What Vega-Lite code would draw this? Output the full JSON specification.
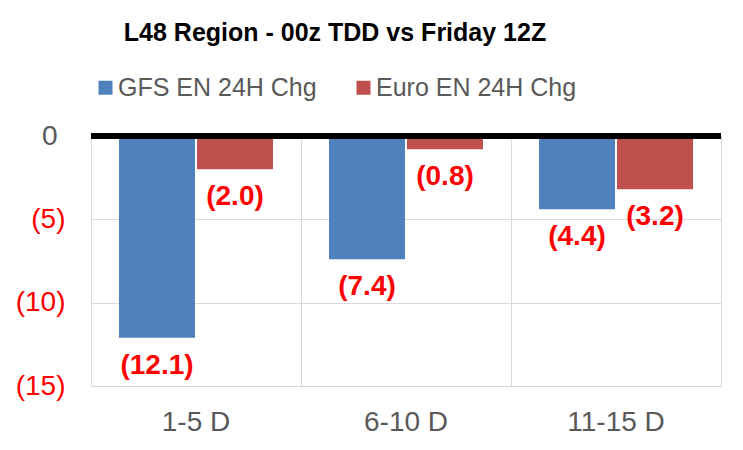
{
  "$schema": "https://vega.github.io/schema/vega-lite/v6.json",
  "width": 630,
  "height": 250,
  "autosize": {"type": "none"},
  "padding": {"left": 91, "top": 136, "right": 22, "bottom": 64},
  "background": "white",
  "config": {"font": "Liberation Sans", "view": {"stroke": "#d9d9d9", "strokeWidth": 1}},
  "title": {"text": "L48 Region - 00z TDD vs Friday 12Z", "fontSize": 25, "fontWeight": "bold", "color": "black", "anchor": "middle", "dx": -71, "offset": 29},
  "data": {"values": [
    {"period": "1-5 D", "model": "GFS EN 24H Chg", "value": -12.1},
    {"period": "1-5 D", "model": "Euro EN 24H Chg", "value": -2.0},
    {"period": "6-10 D", "model": "GFS EN 24H Chg", "value": -7.4},
    {"period": "6-10 D", "model": "Euro EN 24H Chg", "value": -0.8},
    {"period": "11-15 D", "model": "GFS EN 24H Chg", "value": -4.4},
    {"period": "11-15 D", "model": "Euro EN 24H Chg", "value": -3.2}
  ]},
  "encoding": {
    "x": {"field": "period", "type": "nominal", "sort": ["1-5 D", "6-10 D", "11-15 D"],
      "scale": {"paddingInner": 0, "paddingOuter": 0},
      "axis": {"title": null, "orient": "bottom", "ticks": false, "domain": false, "labelFontSize": 28, "labelColor": "#595959", "labelPadding": 22, "labelAngle": 0, "grid": true, "gridColor": "#d9d9d9", "bandPosition": 0}},
    "xOffset": {"field": "model", "type": "nominal", "sort": ["GFS EN 24H Chg", "Euro EN 24H Chg"],
      "scale": {"paddingInner": 0.0256, "paddingOuter": 0.359}},
    "y": {"field": "value", "type": "quantitative",
      "scale": {"domain": [-15, 0], "nice": false},
      "axis": {"title": null, "values": [0, -5, -10, -15], "ticks": false, "domain": false, "labelFontSize": 28, "gridColor": "#d9d9d9",
        "labelPadding": {"condition": {"test": "datum.value == 0", "value": 34}, "value": 26},
        "labelExpr": "datum.value < 0 ? '(' + (-datum.value) + ')' : '0'",
        "labelColor": {"condition": {"test": "datum.value < 0", "value": "#FF0000"}, "value": "#595959"}}}
  },
  "layer": [
    {
      "mark": {"type": "bar"},
      "encoding": {
        "color": {"field": "model", "type": "nominal", "sort": ["GFS EN 24H Chg", "Euro EN 24H Chg"],
          "scale": {"domain": ["GFS EN 24H Chg", "Euro EN 24H Chg"], "range": ["#4F81BD", "#C0504D"]},
          "legend": {"orient": "none", "legendX": 2, "legendY": -61, "direction": "horizontal", "title": null, "symbolType": "square", "symbolSize": 196, "symbolStrokeWidth": 0, "labelFontSize": 25, "labelColor": "#595959", "labelLimit": 0, "columnPadding": 34, "labelOffset": 0}}
      }
    },
    {
      "mark": {"type": "text", "dy": 28, "fontSize": 28, "fontWeight": "bold", "color": "#FF0000", "baseline": "middle"},
      "encoding": {"text": {"field": "value", "type": "quantitative", "format": "(.1f"}}
    },
    {
      "mark": {"type": "rule", "color": "black", "strokeWidth": 6},
      "encoding": {"y": {"datum": 0}, "x": null, "xOffset": null}
    }
  ]
}
